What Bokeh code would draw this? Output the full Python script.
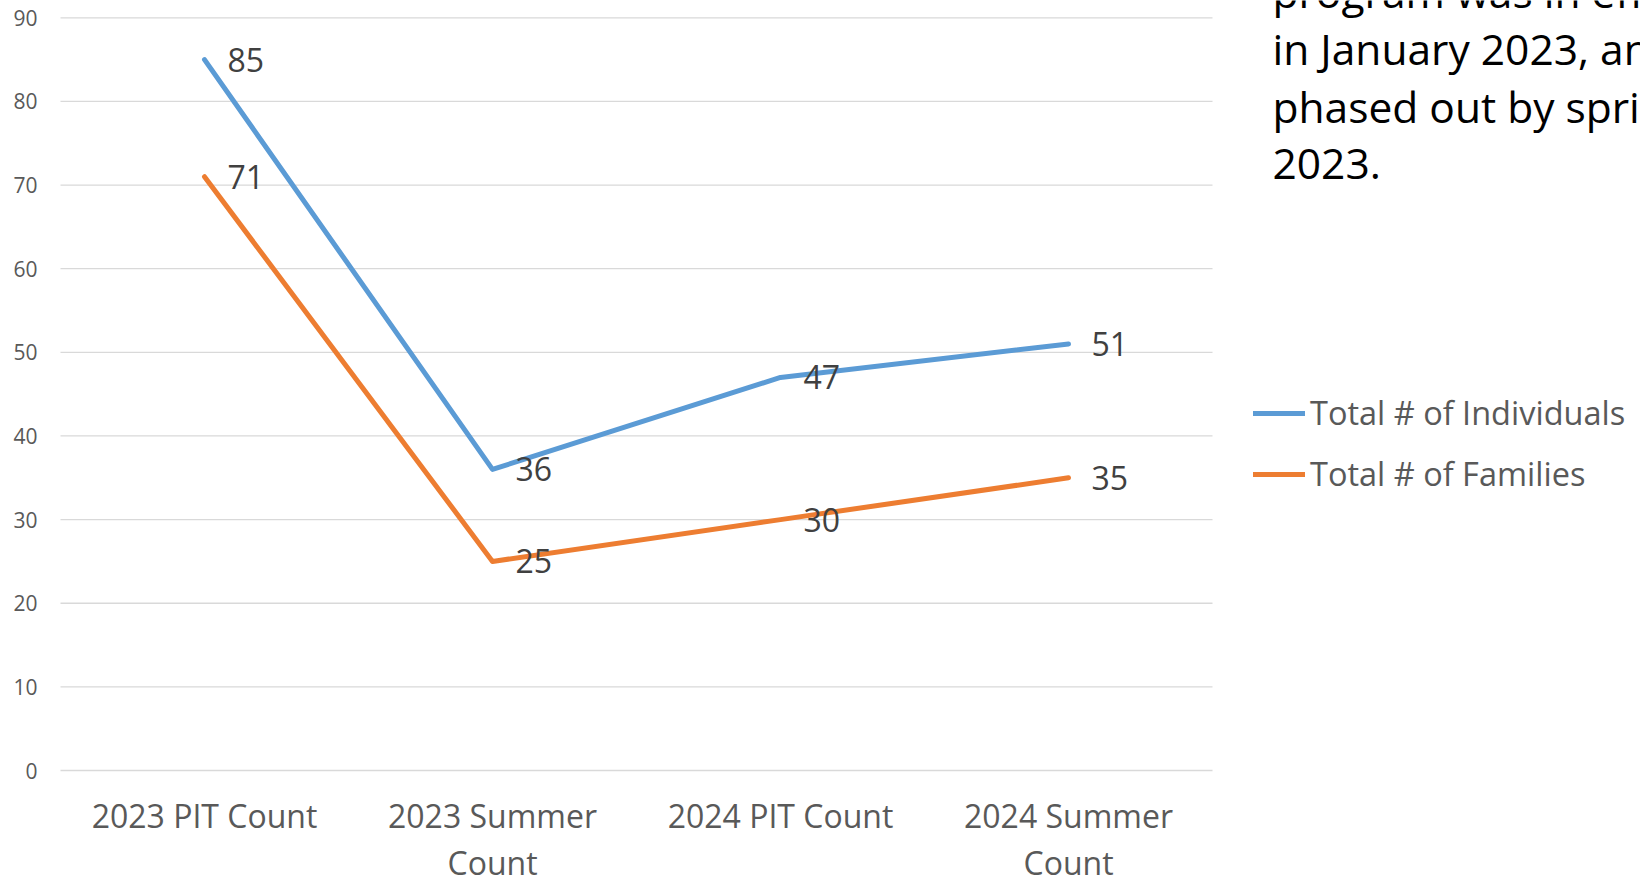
from bokeh.plotting import figure
from bokeh.models import Range1d, FixedTicker, Legend, LegendItem, Label, ColumnDataSource, LinearAxis
from bokeh.core.properties import value
from bokeh.embed import file_html
from bokeh.resources import INLINE

# ---- data ----
categories = ["2023 PIT Count", "2023 Summer\nCount", "2024 PIT Count", "2024 Summer\nCount"]
individuals = [85, 36, 47, 51]
families = [71, 25, 30, 35]
series_names = ["Total # of Individuals", "Total # of Families"]
y_ticks = [0, 10, 20, 30, 40, 50, 60, 70, 80, 90]
note_lines = ["program was in effect", "in January 2023, and", "phased out by spring", "2023."]

FONT = "Open Sans"
BLUE = "#5B9BD5"
ORANGE = "#ED7D31"

n = len(categories)
x_pos = [i + 0.5 for i in range(n)]
line1 = [c.split("\n")[0] for c in categories]
line2 = [c.split("\n")[1] if "\n" in c else "" for c in categories]

W, H = 1640, 879
# plot area inside the canvas (px)
left, right, top, bottom = 60, 1212, 17.3, 770
ymax = y_ticks[-1]
xppu = (right - left) / n
yppu = (bottom - top) / ymax

p = figure(width=W, height=H,
           x_range=Range1d(-left / xppu, (W - left) / xppu),
           y_range=Range1d(-(H - bottom) / yppu, ymax + top / yppu),
           output_backend="svg", toolbar_location=None,
           min_border_left=0, min_border_right=0, min_border_top=0, min_border_bottom=0)
p.outline_line_color = None
p.background_fill_color = "white"
p.border_fill_color = "white"
p.xgrid.grid_line_color = None
p.ygrid.grid_line_color = None

# y axis drawn inside the canvas
p.yaxis.fixed_location = 0
p.yaxis.ticker = FixedTicker(ticks=y_ticks)
p.yaxis.axis_line_color = None
p.yaxis.major_tick_line_color = None
p.yaxis.minor_tick_line_color = None
p.yaxis.major_tick_out = 0
p.yaxis.major_tick_in = 0
p.yaxis.major_label_standoff = 23
p.yaxis.major_label_text_font = FONT
p.yaxis.major_label_text_font_size = "21px"
p.yaxis.major_label_text_color = "#595959"


def style_xaxis(ax, labels, standoff):
    ax.fixed_location = 0
    ax.ticker = FixedTicker(ticks=x_pos)
    ax.major_label_overrides = {x: t for x, t in zip(x_pos, labels)}
    ax.axis_line_color = None
    ax.major_tick_line_color = None
    ax.minor_tick_line_color = None
    ax.major_tick_out = 0
    ax.major_tick_in = 0
    ax.major_label_standoff = standoff
    ax.major_label_text_font = FONT
    ax.major_label_text_font_size = "32px"
    ax.major_label_text_color = "#595959"


style_xaxis(p.xaxis[0], line1, 23)
ax2 = LinearAxis()
style_xaxis(ax2, line2, 70)
p.add_layout(ax2, "below")

# horizontal gridlines across the plot area
p.segment(x0=[0] * len(y_ticks), x1=[n] * len(y_ticks), y0=y_ticks, y1=y_ticks,
          line_color="#D9D9D9", line_width=1.3)

# lines
r1 = p.line(x=x_pos, y=individuals, line_color=BLUE, line_width=5,
            line_cap="round", line_join="round")
r2 = p.line(x=x_pos, y=families, line_color=ORANGE, line_width=5,
            line_cap="round", line_join="round")

# data labels
for vals in (individuals, families):
    src = ColumnDataSource(dict(x=x_pos, y=vals, t=[str(v) for v in vals]))
    p.text(x="x", y="y", text="t", source=src, x_offset=23,
           text_align="left", text_baseline="middle",
           text_font=value(FONT), text_font_size="32px", text_color="#404040")

# legend
legend = Legend(items=[LegendItem(label=series_names[0], renderers=[r1]),
                       LegendItem(label=series_names[1], renderers=[r2])],
                location=(1253, 383), orientation="vertical",
                glyph_width=52, glyph_height=40, label_height=40,
                label_standoff=5, spacing=16, padding=0, margin=0,
                border_line_color=None, background_fill_alpha=0,
                label_text_font=FONT, label_text_font_size="32.5px",
                label_text_color="#595959")
p.add_layout(legend)

# side note text
baselines = [888, 831, 773, 716]
for line, yb in zip(note_lines, baselines):
    p.add_layout(Label(x=1272, y=yb, x_units="screen", y_units="screen", text=line,
                       text_font=FONT, text_font_size="42.5px", text_color="black",
                       text_baseline="alphabetic", text_align="left"))

open("out.html", "w").write(file_html(p, INLINE))
